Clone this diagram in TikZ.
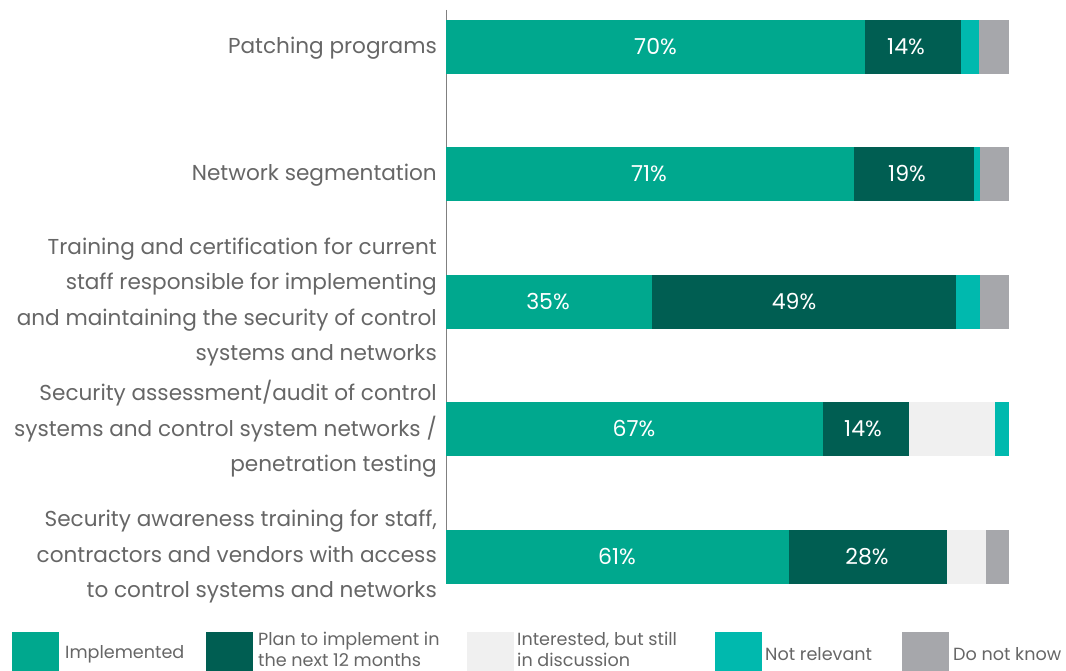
\documentclass[tikz,border=0pt]{standalone}
\usepackage{fontspec}
\setmainfont{Poppins}
\definecolor{impl}{HTML}{00A88E}
\definecolor{plan}{HTML}{005E52}
\definecolor{intr}{HTML}{F0F0F0}
\definecolor{nrel}{HTML}{00B9AE}
\definecolor{dnk}{HTML}{A6A7AB}
\definecolor{labgray}{HTML}{666666}
\definecolor{axisgray}{HTML}{808080}
\begin{document}
\begin{tikzpicture}[x=1pt,y=-1pt,
  lbl/.style={anchor=east, align=right, text=labgray, inner sep=0pt, font=\fontsize{21.6}{35.5}\selectfont},
  pct/.style={text=white, inner sep=0pt, font=\fontsize{22}{24}\selectfont},
  leg/.style={anchor=west, align=left, text=labgray, inner sep=0pt, font=\fontsize{17.6}{20.5}\selectfont}]
\useasboundingbox (0,0) rectangle (1066,671);
% axis
\draw[axisgray, line width=0.8pt] (446,10) -- (446,584);
% bar 1
\fill[impl] (446,20) rectangle (865,74);
\fill[plan] (865,20) rectangle (961,74);
\fill[nrel] (961,20) rectangle (979,74);
\fill[dnk] (979,20) rectangle (1009,74);
\node[pct] (p1a) at (655.5,47) {70\%};
\node[pct] (p1b) at (906,47) {14\%};
% bar 2
\fill[impl] (446,147) rectangle (854,201);
\fill[plan] (854,147) rectangle (974,201);
\fill[nrel] (974,147) rectangle (980,201);
\fill[dnk] (980,147) rectangle (1009,201);
\node[pct] (p2a) at (649,174) {71\%};
\node[pct] (p2b) at (907,174) {19\%};
% bar 3
\fill[impl] (446,275) rectangle (652,329);
\fill[plan] (652,275) rectangle (956,329);
\fill[nrel] (956,275) rectangle (980,329);
\fill[dnk] (980,275) rectangle (1009,329);
\node[pct] (p3a) at (548,302) {35\%};
\node[pct] (p3b) at (794,302) {49\%};
% bar 4
\fill[impl] (446,402) rectangle (823,456);
\fill[plan] (823,402) rectangle (909,456);
\fill[intr] (909,402) rectangle (995,456);
\fill[nrel] (995,402) rectangle (1009,456);
\node[pct] (p4a) at (634,429) {67\%};
\node[pct] (p4b) at (863,429) {14\%};
% bar 5
\fill[impl] (446,530) rectangle (789,584);
\fill[plan] (789,530) rectangle (947,584);
\fill[intr] (947,530) rectangle (986,584);
\fill[dnk] (986,530) rectangle (1009,584);
\node[pct] (p5a) at (617,557) {61\%};
\node[pct] (p5b) at (867,557) {28\%};
% labels
\node[lbl] (l1) at (437,48) {Patching programs};
\node[lbl] (l2) at (437,175) {Network segmentation};
\node[lbl] (l3) at (437,302) {Training and certification for current\\staff responsible for implementing\\and maintaining the security of control\\systems and networks};
\node[lbl] (l4) at (437,429) {Security assessment/audit of control\\systems and control system networks /\\penetration testing};
\node[lbl] (l5) at (437,557) {Security awareness training for staff,\\contractors and vendors with access\\to control systems and networks};
% legend
\fill[impl] (12,632) rectangle (59,671);
\node[leg] (g1) at (65,654) {Implemented};
\fill[plan] (206,632) rectangle (253,671);
\node[leg] (g2) at (258,649.5) {Plan to implement in\\the next 12 months};
\fill[intr] (467,632) rectangle (514,671);
\node[leg] (g3) at (517,649.5) {Interested, but still\\in discussion};
\fill[nrel] (715,632) rectangle (762,671);
\node[leg] (g4) at (765,654) {Not relevant};
\fill[dnk] (902,632) rectangle (949,671);
\node[leg] (g5) at (953,654) {Do not know};
\end{tikzpicture}
\end{document}
